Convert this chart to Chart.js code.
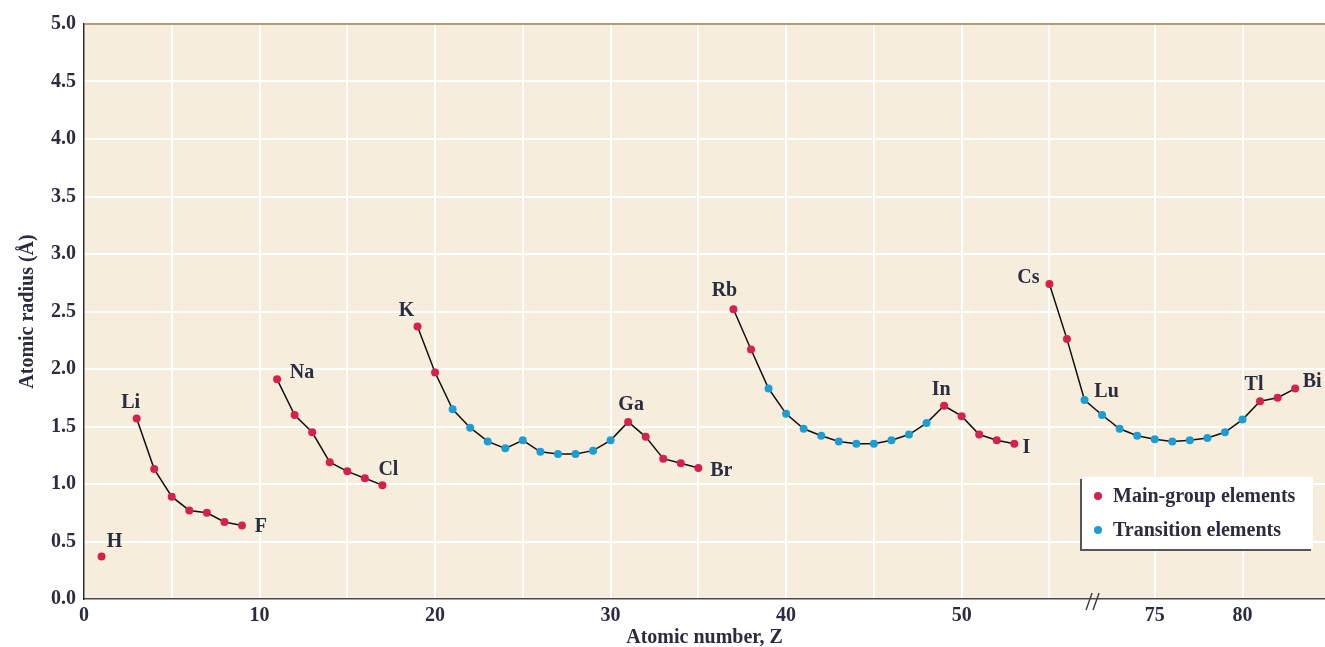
<!DOCTYPE html>
<html>
<head>
<meta charset="utf-8">
<script src="https://cdn.jsdelivr.net/npm/chart.js@4.4.0/dist/chart.umd.min.js"></script>
<style>
  html, body { margin: 0; padding: 0; background: #fff; overflow: hidden; }
  #wrap { width: 1325px; height: 647px; }
</style>
</head>
<body>
<div id="wrap"><canvas id="radii"></canvas></div>
<script>
"use strict";

// atomic numbers shown (lanthanides 57-70 are left out)
const atomicNumbers = [
  1,
  3, 4, 5, 6, 7, 8, 9,
  11, 12, 13, 14, 15, 16, 17,
  19, 20, 21, 22, 23, 24, 25, 26, 27, 28, 29, 30, 31, 32, 33, 34, 35,
  37, 38, 39, 40, 41, 42, 43, 44, 45, 46, 47, 48, 49, 50, 51, 52, 53,
  55, 56, 71, 72, 73, 74, 75, 76, 77, 78, 79, 80, 81, 82, 83
];
// atomic radius in angstrom
const atomicRadii = [
  0.37,
  1.57, 1.13, 0.89, 0.77, 0.75, 0.67, 0.64,
  1.91, 1.60, 1.45, 1.19, 1.11, 1.05, 0.99,
  2.37, 1.97, 1.65, 1.49, 1.37, 1.31, 1.38, 1.28, 1.26, 1.26, 1.29, 1.38, 1.54, 1.41, 1.22, 1.18, 1.14,
  2.52, 2.17, 1.83, 1.61, 1.48, 1.42, 1.37, 1.35, 1.35, 1.38, 1.43, 1.53, 1.68, 1.59, 1.43, 1.38, 1.35,
  2.74, 2.26, 1.73, 1.60, 1.48, 1.42, 1.39, 1.37, 1.38, 1.40, 1.45, 1.56, 1.72, 1.75, 1.83
];
const transitionNumbers = [
  21, 22, 23, 24, 25, 26, 27, 28, 29, 30,
  39, 40, 41, 42, 43, 44, 45, 46, 47, 48,
  71, 72, 73, 74, 75, 76, 77, 78, 79, 80
];
// the curve is broken after the last element of each period
const periodEnds = [1, 9, 17, 35, 53];
const labelNumbers = [1, 3, 9, 11, 17, 19, 31, 35, 37, 49, 53, 55, 71, 81, 83];
const labelSymbols = ["H", "Li", "F", "Na", "Cl", "K", "Ga", "Br", "Rb", "In", "I", "Cs", "Lu", "Tl", "Bi"];
const yTickValues = [0, 0.5, 1, 1.5, 2, 2.5, 3, 3.5, 4, 4.5, 5];
const xGridNumbers = [0, 5, 10, 15, 20, 25, 30, 35, 40, 45, 50, 55, 75, 80];
const xTickLabels = [0, 10, 20, 30, 40, 50, 75, 80];
const gapFirst = 57, gapLast = 70;   // axis break
const xMax = 70.7;

const gapSize = gapLast - gapFirst + 1;
function axisPos(z) {
  return z >= gapFirst ? z - gapSize : z;
}
function axisZ(p) {
  return p >= gapFirst ? p + gapSize : p;
}

const RED = "#d6214f";
const BLUE = "#1d9ed3";
const INK = "#2a2c3f";
const FONT = "'Liberation Serif', 'Times New Roman', serif";

let mainPts = [], transPts = [], linePts = [];
atomicNumbers.forEach((z, i) => {
  let pt = { x: axisPos(z), y: atomicRadii[i] };
  if (transitionNumbers.includes(z)) transPts.push(pt);
  else mainPts.push(pt);
  linePts.push(pt);
  if (periodEnds.includes(z)) linePts.push({ x: axisPos(z) + 0.5, y: null });
});

// label offsets in px from the point
const labelOffsets = {
  H: [13, -15], Li: [-6, -16], F: [19, 1], Na: [25, -7], Cl: [6, -15],
  K: [-11, -16], Ga: [3, -17], Br: [23, 3], Rb: [-9, -18], In: [-3, -16],
  I: [12, 4], Cs: [-21, -6], Lu: [22, -8], Tl: [-6, -16], Bi: [17, -7]
};

const paperPlugin = {
  id: "paper",
  beforeDraw(chart) {
    const c = chart.ctx, a = chart.chartArea;
    c.save();
    c.fillStyle = "#ffffff";
    c.fillRect(0, 0, chart.width, chart.height);
    c.fillStyle = "#f6eddd";
    c.fillRect(a.left, a.top, a.right - a.left, a.bottom - a.top);
    c.restore();
  }
};

const labelPlugin = {
  id: "elementLabels",
  afterDatasetsDraw(chart) {
    const c = chart.ctx;
    const xs = chart.scales.x, ys = chart.scales.y;
    c.save();
    c.font = "bold 20px " + FONT;
    c.fillStyle = INK;
    c.textAlign = "center";
    c.textBaseline = "middle";
    labelNumbers.forEach((z, i) => {
      const sym = labelSymbols[i];
      const r = atomicRadii[atomicNumbers.indexOf(z)];
      const off = labelOffsets[sym];
      c.fillText(sym, xs.getPixelForValue(axisPos(z)) + off[0], ys.getPixelForValue(r) + off[1]);
    });
    c.restore();
  }
};

const breakPlugin = {
  id: "axisBreak",
  afterDraw(chart) {
    const c = chart.ctx;
    const cx = chart.scales.x.getPixelForValue(gapFirst + 0.6);
    const by = chart.chartArea.bottom;
    c.save();
    c.strokeStyle = "#3a3a3a";
    c.lineWidth = 1.4;
    [-6, 1].forEach(d => {
      c.beginPath();
      c.moveTo(cx + d - 3, by + 11);
      c.lineTo(cx + d + 3, by - 6);
      c.stroke();
    });
    c.restore();
  }
};

const legendPlugin = {
  id: "boxLegend",
  afterDraw(chart) {
    const c = chart.ctx, a = chart.chartArea;
    const w = 231, h = 72;
    const x = a.right - 12 - w, y = a.bottom - 50 - h;
    c.save();
    c.fillStyle = "#555555";
    c.fillRect(x - 2, y + 2, w, h);
    c.fillStyle = "#ffffff";
    c.fillRect(x, y, w, h);
    const items = chart.data.datasets.filter(d => d.inLegend);
    items.forEach((d, i) => {
      const ry = y + 19 + i * 34;
      c.beginPath();
      c.arc(x + 16, ry, 4, 0, Math.PI * 2);
      c.fillStyle = d.backgroundColor;
      c.fill();
      c.font = "bold 20px " + FONT;
      c.fillStyle = INK;
      c.textAlign = "left";
      c.textBaseline = "middle";
      c.fillText(d.label, x + 31, ry + 1);
    });
    c.restore();
  }
};

const ctx = document.getElementById("radii");

let chart1 = new Chart(ctx, {
  type: "scatter",
  data: {
    datasets: [
      {
        label: "Main-group elements",
        data: mainPts,
        backgroundColor: RED,
        borderWidth: 0,
        pointRadius: 4,
        inLegend: true,
        order: 1,
      },
      {
        label: "Transition elements",
        data: transPts,
        backgroundColor: BLUE,
        borderWidth: 0,
        pointRadius: 4,
        inLegend: true,
        order: 1,
      },
      {
        label: "curve",
        data: linePts,
        showLine: true,
        spanGaps: false,
        borderColor: "#111111",
        borderWidth: 1.5,
        pointRadius: 0,
        order: 2,
      },
    ],
  },
  options: {
    responsive: true,
    maintainAspectRatio: false,
    animation: false,
    layout: {
      autoPadding: false,
      padding: { top: 24, left: 0, right: 0, bottom: 0 },
    },
    plugins: {
      legend: { display: false },
      tooltip: { enabled: false },
    },
    scales: {
      x: {
        type: "linear",
        min: 0,
        max: xMax,
        afterBuildTicks: axis => {
          // last tick at the edge carries no label
          axis.ticks = xGridNumbers.map(z => ({ value: axisPos(z) })).concat([{ value: xMax }]);
        },
        afterFit: axis => {
          axis.height = 48;
          axis.paddingRight = 0;   // plot runs to the right edge
        },
        ticks: {
          autoSkip: false,
          maxRotation: 0,
          padding: 5,
          color: INK,
          font: { family: FONT, size: 20, weight: "bold" },
          callback: v => (xTickLabels.includes(axisZ(v)) ? String(axisZ(v)) : ""),
        },
        grid: {
          color: c => (c.tick && c.tick.value === xMax ? "rgba(0,0,0,0)" : "#ffffff"),
          lineWidth: 2,
          drawTicks: false,
        },
        border: { color: "#4a4a4a", width: 1.5 },
        title: {
          display: true,
          text: "Atomic number, Z",
          color: INK,
          font: { family: FONT, size: 20, weight: "bold", lineHeight: 1 },
          padding: { top: 0, bottom: -1 },
        },
      },
      y: {
        min: 0,
        max: 5,
        afterBuildTicks: axis => {
          axis.ticks = yTickValues.map(v => ({ value: v }));
        },
        afterFit: axis => { axis.width = 84; },
        ticks: {
          padding: 8,
          color: INK,
          font: { family: FONT, size: 20, weight: "bold" },
          callback: v => v.toFixed(1),
        },
        grid: {
          color: c => (c.tick && c.tick.value === 5 ? "#b59c78" : "#ffffff"),
          lineWidth: 2,
          drawTicks: false,
        },
        border: { color: "#2a2a2a", width: 1.5 },
        title: {
          display: true,
          text: "Atomic radius (Å)",
          color: INK,
          font: { family: FONT, size: 20, weight: "bold", lineHeight: 1.2 },
          padding: { top: 16, bottom: 0 },
        },
      },
    },
  },
  plugins: [paperPlugin, labelPlugin, breakPlugin, legendPlugin],
});
</script>
</body>
</html>
